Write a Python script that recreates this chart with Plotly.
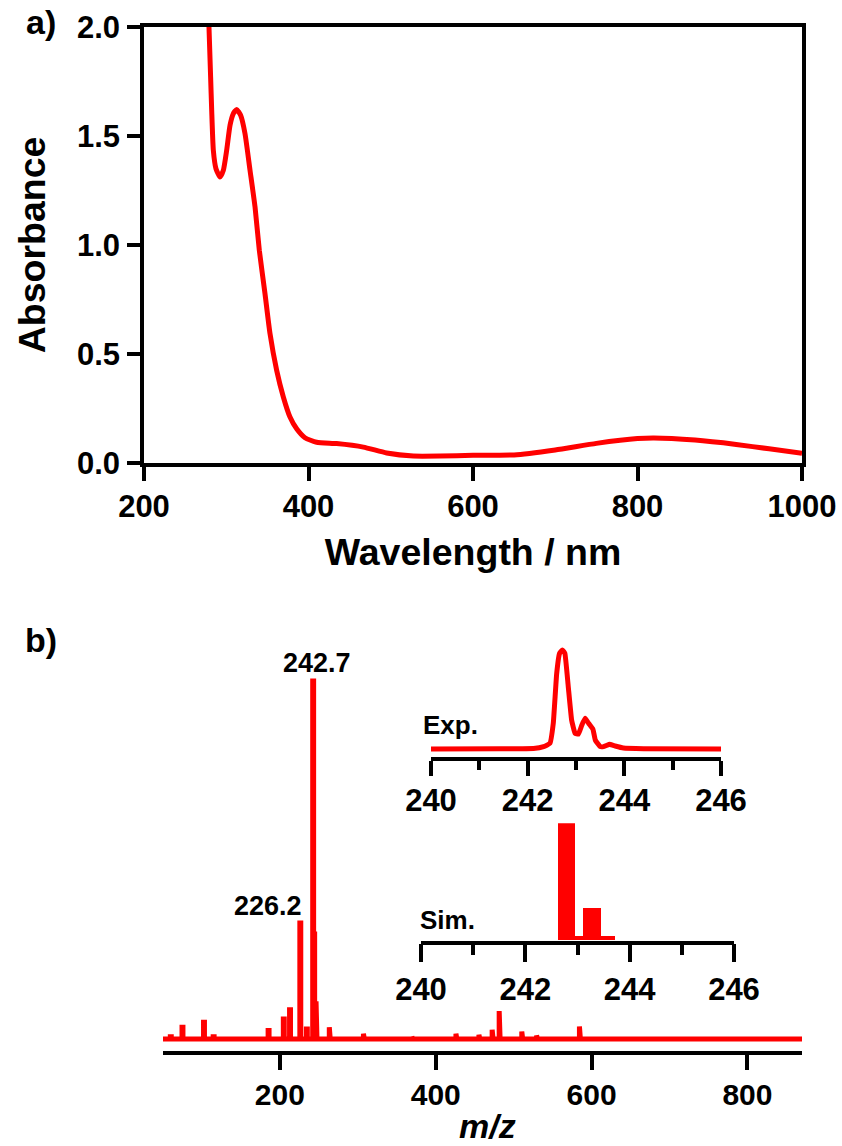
import plotly.graph_objects as go

# Panel a: UV-vis spectrum
wavelength = [279, 281, 282.3, 284.3, 287.5, 292.4, 296.5, 300.5, 304.6, 308.6, 312.7, 317.5, 322.8, 328.9,
              335, 340.2, 347.1, 353.2, 361.3, 369.4, 377.5, 385.6, 395.7, 409.9, 434.2, 466.7, 495, 527.5,
              560, 600, 650, 700, 750, 800, 820, 870, 920, 960, 1000]
absorbance = [2.0, 1.77, 1.618, 1.434, 1.35, 1.312, 1.343, 1.434, 1.549, 1.603, 1.622, 1.595, 1.511, 1.343,
              1.174, 0.976, 0.777, 0.593, 0.425, 0.303, 0.211, 0.157, 0.116, 0.095, 0.089, 0.073, 0.046, 0.032,
              0.032, 0.035, 0.037, 0.06, 0.09, 0.112, 0.115, 0.105, 0.085, 0.065, 0.045]

# Panel b: mass spectrum sticks
peak_mz = [60, 75, 102.6, 115, 185.5, 205, 213, 226.2, 234.6, 242.7, 244, 247, 264, 307.8, 370, 426.5,
           456, 473, 482, 511, 530, 585]
peak_int = [0.6, 3.3, 4.7, 0.6, 2.4, 5.6, 8.2, 32.4, 2.8, 100, 30, 10.5, 3.3, 1.5, 0.6, 1.5,
            1.2, 2.6, 7.8, 2.1, 1.0, 3.5]
mz_start = 50
mz_end = 870

# Inset: experimental isotope pattern
exp_mz = [240, 241.43, 242.12, 242.33, 242.46, 242.53, 242.6, 242.66, 242.72, 242.77, 242.84, 242.91, 242.98,
          243.05, 243.12, 243.19, 243.26, 243.35, 243.4, 243.5, 243.57, 243.69, 243.81, 243.98, 244.4, 246]
exp_int = [0, 0.3, 0.5, 2.4, 5.7, 26, 76, 96.6, 100, 96.6, 63, 29, 16,
           15, 24, 31, 26, 20, 9, 2.4, 2.4, 4.7, 3, 1, 0.3, 0]

# Inset: simulated isotope pattern
sim_mz = [242.79, 243.03, 243.28, 243.58]
sim_int = [100, 4, 28, 4]
sim_width = [0.34, 0.14, 0.34, 0.26]

W, H = 842, 1146
RED = "#ff0000"
FONT = "Liberation Sans"


def dx(a, b):
    return [a / W, b / W]


def dy(top, bottom):
    return [1 - bottom / H, 1 - top / H]


stick_x = [mz_start]
stick_y = [0]
for m, v in zip(peak_mz, peak_int):
    stick_x += [m - 0.6, m - 0.6, m + 0.6, m + 0.6]
    stick_y += [0, v, v, 0]
stick_x.append(mz_end)
stick_y.append(0)

fig = go.Figure()
fig.add_trace(go.Scatter(x=wavelength, y=absorbance, mode="lines", xaxis="x", yaxis="y",
                         line=dict(color=RED, width=5, shape="spline", smoothing=0.5)))
fig.add_trace(go.Scatter(x=stick_x, y=stick_y, mode="lines", xaxis="x2", yaxis="y2", cliponaxis=False,
                         line=dict(color=RED, width=5)))
fig.add_trace(go.Scatter(x=exp_mz, y=exp_int, mode="lines", xaxis="x3", yaxis="y3", cliponaxis=False,
                         line=dict(color=RED, width=5, shape="spline", smoothing=0.3)))
fig.add_trace(go.Bar(x=sim_mz, y=sim_int, width=sim_width, xaxis="x4", yaxis="y4",
                     marker=dict(color=RED, line=dict(width=0))))

axis_style = dict(showline=True, linecolor="black", linewidth=3.5, ticks="outside", tickcolor="black",
                  tickwidth=3.5, showgrid=False, zeroline=False, automargin=False,
                  tickfont=dict(family=FONT, size=31, color="black", weight=700))
inset_style = dict(axis_style, range=[240, 246], tickvals=[240, 242, 244, 246])
minor_exp = dict(ticks="outside", ticklen=9, tickwidth=3.5, tickcolor="black", dtick=1)
minor_sim = dict(ticks="outside", ticklen=11, tickwidth=3.5, tickcolor="black", dtick=1)


def title_font(size):
    return dict(family=FONT, size=size, color="black", weight=700)


main_b_style = dict(axis_style, tickfont=dict(family=FONT, size=30, color="black", weight=700))

fig.update_layout(
    width=W, height=H, margin=dict(l=0, r=0, t=0, b=0), paper_bgcolor="white", plot_bgcolor="white",
    showlegend=False, bargap=0,
    xaxis=dict(axis_style, domain=dx(144, 802), range=[200, 1000], tickvals=[200, 400, 600, 800, 1000],
               ticklen=14, mirror=True, ticklabelstandoff=-1, anchor="y",
               title=dict(text="Wavelength / nm", font=title_font(37.5), standoff=17)),
    yaxis=dict(axis_style, domain=dy(27, 463), range=[0, 2.0], tickvals=[0, 0.5, 1.0, 1.5, 2.0],
               tickformat=".1f", ticklen=13, mirror=True, ticklabelstandoff=1, anchor="x",
               title=dict(text="Absorbance", font=title_font(37.5), standoff=21)),
    xaxis2=dict(main_b_style, domain=dx(163, 802), range=[mz_start, mz_end], tickvals=[200, 400, 600, 800],
                ticklen=15, ticklabelstandoff=-1, anchor="y2"),
    yaxis2=dict(domain=dy(670, 1051), range=[-3.35, 103.07], visible=False, anchor="x2"),
    xaxis3=dict(inset_style, domain=dx(431, 721), ticklen=15, minor=minor_exp, ticklabelstandoff=-2, anchor="y3"),
    yaxis3=dict(domain=dy(640, 757), range=[-8.08, 110.1], visible=False, anchor="x3"),
    xaxis4=dict(inset_style, domain=dx(421, 734), ticklen=18, minor=minor_sim, ticklabelstandoff=0, anchor="y4"),
    yaxis4=dict(domain=dy(823.3, 940.7), range=[0, 100], visible=False, anchor="x4"),
)


def label(text, x, y, size, **kw):
    fig.add_annotation(text=text, xref="paper", yref="paper", x=x / W, y=1 - y / H, showarrow=False,
                       xanchor="center", yanchor="middle", font=title_font(size), **kw)


label("a)", 41, 22, 34)
label("b)", 41, 640, 34)
label("242.7", 317, 663, 27)
label("226.2", 268, 906, 27)
label("Exp.", 450, 725, 26)
label("Sim.", 447, 920, 26)
label("<i>m/z</i>", 487, 1126, 34)

fig.write_html("out.html", config=dict(displayModeBar=False), post_script="document.body.style.margin='0';")
